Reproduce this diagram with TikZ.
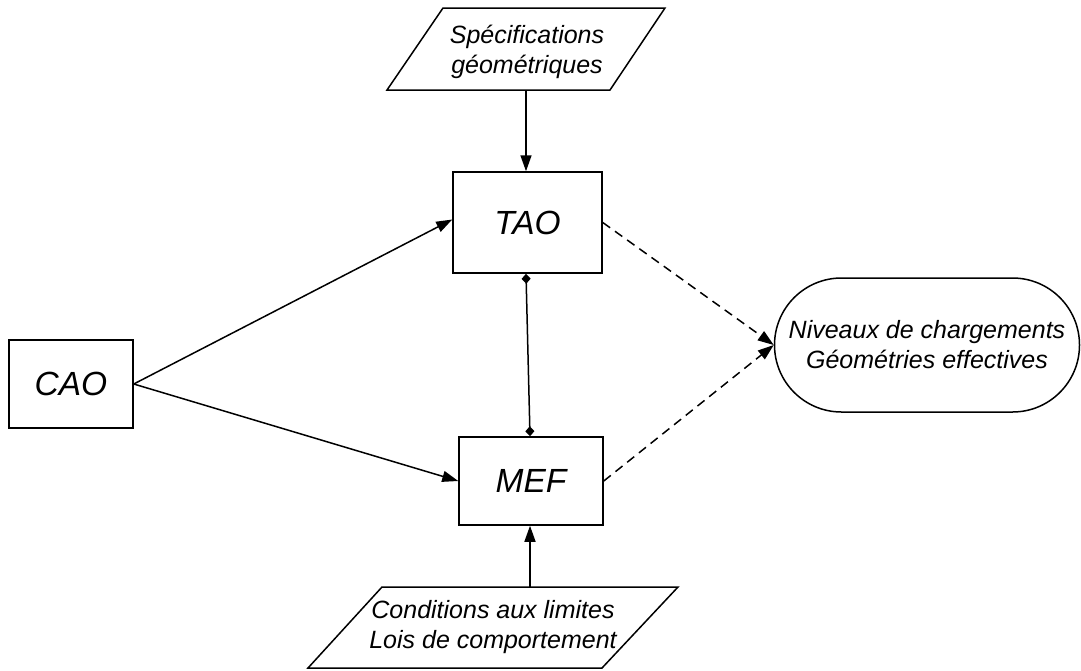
\documentclass[tikz,border=0pt]{standalone}
\usepackage{fontspec}
\setmainfont{Liberation Sans}
\usetikzlibrary{arrows.meta,shapes.misc}
\begin{document}
\begin{tikzpicture}[x=1pt,y=-1pt,line width=1.5pt,
  boxnode/.style={draw,rectangle,inner sep=0pt,font=\fontsize{33.5}{38}\selectfont\itshape},
  txt/.style={align=center,inner sep=0pt,font=\fontsize{25}{30}\selectfont\itshape},
  arr/.style={-{Triangle[length=16pt,width=11pt]}},
  dia/.style={{Diamond[length=10pt,width=9pt]}-{Diamond[length=10pt,width=9pt]}},
  dsh/.style={dashed,dash pattern=on 9pt off 6pt,-{Triangle[length=16pt,width=11pt]}}]
\useasboundingbox (0,0) rectangle (1081,670);
% top parallelogram
\draw (443,8) -- (665,8) -- (610,90) -- (387,90) -- cycle;
\node[txt] (spec) at (527,52) {Spécifications\\géométriques};
\coordinate (specb) at (526,90);
% bottom parallelogram
\draw (382,587) -- (678,587) -- (602,668) -- (308,668) -- cycle;
\node[txt] (cond) at (493,627) {Conditions aux limites\\Lois de comportement};
\coordinate (condt) at (530,587);
% boxes
\node[boxnode,minimum width=149pt,minimum height=101pt] (tao) at (527.5,222.5) {TAO};
\node[boxnode,minimum width=144pt,minimum height=88pt] (mef) at (531,481) {MEF};
\node[boxnode,minimum width=124pt,minimum height=88pt] (cao) at (71,384) {CAO};
% terminal
\node[draw,rounded rectangle,minimum width=305pt,minimum height=134pt,txt] (res) at (927,345) {Niveaux de chargements\\Géométries effectives};
% connectors
\draw[arr] (specb) -- (tao.north -| specb);
\draw[arr] (condt) -- (mef.south -| condt);
\draw[arr] (cao.east) -- ([yshift=3pt]tao.west);
\draw[arr] (cao.east) -- (mef.west);
\draw[dia] ([xshift=-1.5pt]tao.south) -- ([xshift=-1pt]mef.north);
\draw[dsh] (tao.east) -- (res.west);
\draw[dsh] (mef.east) -- (res.west);
\end{tikzpicture}
\end{document}
